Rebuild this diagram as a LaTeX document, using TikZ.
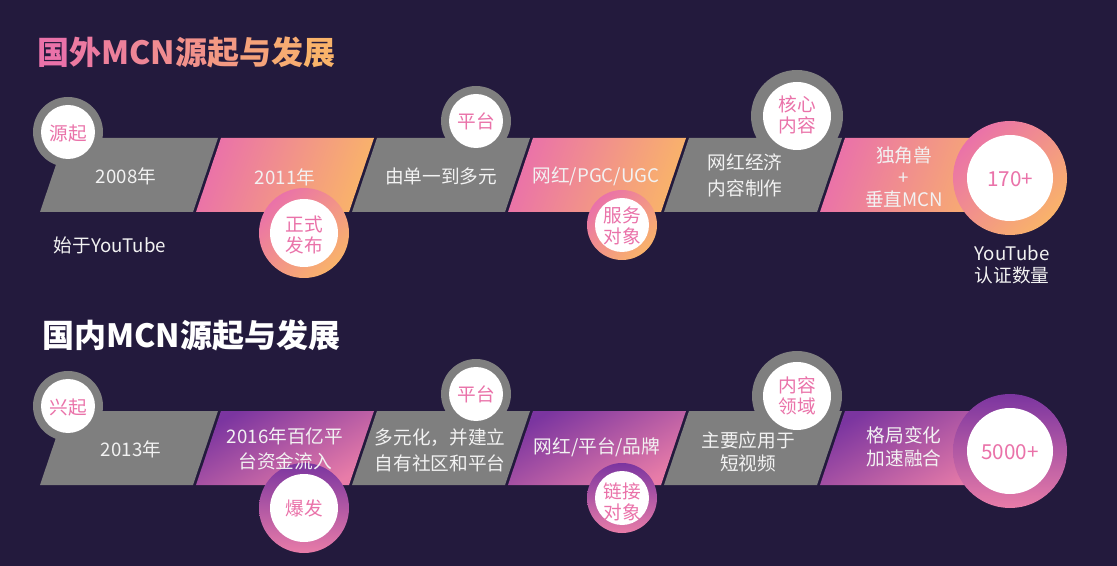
\documentclass[tikz,border=0pt]{standalone}
\usepackage{fontspec}
\setmainfont{Noto Sans CJK SC}
\definecolor{bg}{RGB}{35,26,61}
\definecolor{gr}{RGB}{127,127,127}
\definecolor{pk}{RGB}{234,114,169}
\definecolor{og}{RGB}{249,179,106}
\definecolor{pu}{RGB}{123,53,160}
\definecolor{pkb}{RGB}{232,124,168}
\definecolor{tx}{RGB}{242,242,242}
\newcommand\parg[3]{\path[#3] (#1+25,#2) -- (#1+178,#2) -- (#1+153,#2+74) -- (#1,#2+74) -- cycle;}
\tikzset{
  warm/.style={left color=pk, right color=og, shading angle=70},
  cool/.style={top color=pu, bottom color=pkb, shading angle=30},
  grayfill/.style={fill=gr},
  lbl/.style={text=tx, font=\fontsize{14}{19.5}\selectfont, align=center, inner sep=0pt},
  clbl/.style={text=pk, font=\fontsize{14}{16}\selectfont, align=center, inner sep=0pt},
  ttl/.style={font=\fontsize{24}{28}\selectfont\bfseries, anchor=west, inner sep=0pt},
}
\begin{document}
\begin{tikzpicture}[x=0.75pt,y=-0.75pt]
\fill[bg] (0,0) rectangle (1117,566);
\useasboundingbox (0,0) rectangle (1117,566);
% ---------- titles ----------
\node[ttl] (title1) at (37,52) {\textcolor{pk}{国}\textcolor{og!12!pk}{外}\textcolor{og!22!pk}{M}\textcolor{og!30!pk}{C}\textcolor{og!38!pk}{N}\textcolor{og!48!pk}{源}\textcolor{og!60!pk}{起}\textcolor{og!74!pk}{与}\textcolor{og!87!pk}{发}\textcolor{og}{展}};
\node[ttl, text=white] (title2) at (42,335) {国内MCN源起与发展};
% ---------- top row ----------
\parg{40}{138}{grayfill}
\parg{196}{138}{warm}
\parg{352}{138}{grayfill}
\parg{508}{138}{warm}
\parg{664}{138}{grayfill}
\path[warm] (845,138) -- (1010,138) -- (1010,212) -- (820,212) -- cycle;
% circles top
\fill[gr] (68,132) circle (35);   \fill[white] (68,132) circle (27);
\shade[left color=pk, right color=og, shading angle=45] (304,233) circle (45); \fill[white] (304,233) circle (34);
\fill[gr] (476,121) circle (35);  \fill[white] (476,121) circle (27);
\shade[left color=pk, right color=og, shading angle=45] (622,225) circle (35); \fill[white] (622,225) circle (27);
\fill[gr] (797,116) circle (46);  \fill[white] (797,116) circle (34);
\shade[left color=pk, right color=og, shading angle=45] (1010,178) circle (57); \fill[white] (1010,178) circle (43);
% labels top
\node[lbl] (a1) at (126,176) {2008年};
\node[lbl] (a2) at (285,177) {2011年};
\node[lbl] (a3) at (441,176) {由单一到多元};
\node[lbl] (a4) at (596,176) {网红/PGC/UGC};
\node[lbl] (a5) at (745,175) {网红经济\\内容制作};
\node[lbl, font=\fontsize{14}{16.5}\selectfont] (a6) at (904,177) {独角兽\\+\\垂直MCN};
\node[lbl] (a7) at (110,245) {始于YouTube};
\node[lbl, font=\fontsize{14}{16.5}\selectfont] (a8) at (1012,265) {YouTube\\认证数量};
\node[clbl] (c1) at (68,133) {源起};
\node[clbl] (c2) at (304,235) {正式\\发布};
\node[clbl] (c3) at (476,121) {平台};
\node[clbl] (c4) at (622,226) {服务\\对象};
\node[clbl] (c5) at (797,115) {核心\\内容};
\node[clbl, font=\fontsize{15.5}{18}\selectfont] (c6) at (1010,179) {170+};
% ---------- bottom row ----------
\parg{40}{411}{grayfill}
\parg{196}{411}{cool}
\parg{352}{411}{grayfill}
\parg{508}{411}{cool}
\parg{664}{411}{grayfill}
\path[cool] (845,411) -- (1010,411) -- (1010,485) -- (820,485) -- cycle;
% circles bottom
\fill[gr] (68,406) circle (35);   \fill[white] (68,406) circle (27);
\shade[top color=pu, bottom color=pkb] (304,508) circle (45); \fill[white] (304,508) circle (34);
\fill[gr] (476,394) circle (35);  \fill[white] (476,394) circle (27);
\shade[top color=pu, bottom color=pkb] (622,498) circle (35); \fill[white] (622,498) circle (27);
\fill[gr] (797,396) circle (45);  \fill[white] (797,396) circle (34);
\shade[top color=pu, bottom color=pkb] (1010,451) circle (57); \fill[white] (1010,451) circle (43);
% labels bottom
\node[lbl] (b1) at (131,449) {2013年};
\node[lbl, font=\fontsize{14}{18.5}\selectfont] (b2) at (285,449) {2016年百亿平\\台资金流入};
\node[lbl] (b3) at (440,450) {多元化，并建立\\自有社区和平台};
\node[lbl] (b4) at (597,447) {网红/平台/品牌};
\node[lbl, font=\fontsize{14}{17.5}\selectfont] (b5) at (748,452) {主要应用于\\短视频};
\node[lbl, font=\fontsize{14}{17.5}\selectfont] (b6) at (904,447) {格局变化\\加速融合};
\node[clbl] (d1) at (68,407) {兴起};
\node[clbl] (d2) at (304,508) {爆发};
\node[clbl] (d3) at (476,394) {平台};
\node[clbl] (d4) at (622,502) {链接\\对象};
\node[clbl] (d5) at (797,396) {内容\\领域};
\node[clbl, font=\fontsize{15.5}{18}\selectfont] (d6) at (1010,452) {5000+};
\end{tikzpicture}
\end{document}
